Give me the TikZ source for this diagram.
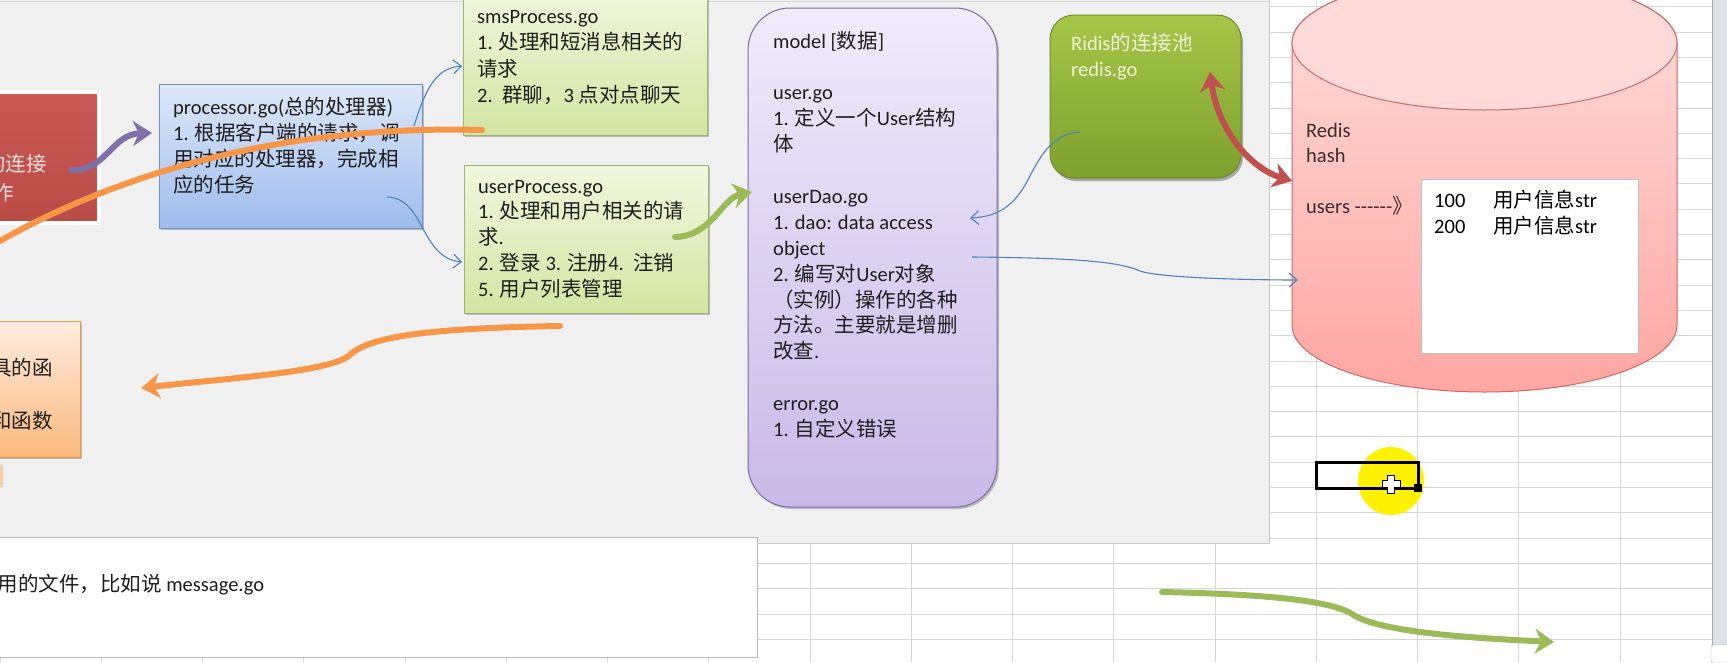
\documentclass[tikz,border=0pt]{standalone}
\usepackage{fontspec}
\setmainfont{Carlito}
\newfontfamily\cjkfont{Noto Sans CJK SC}
\newfontfamily\latfont{Carlito}
\usetikzlibrary{arrows.meta,shadows}
% automatic switch between Latin (Carlito) and CJK (Noto Sans CJK SC)
\XeTeXinterchartokenstate=1
\chardef\CJKcls=1
\newcount\cjkc
\def\setcjkrange#1#2{\cjkc=#1\relax\loop\XeTeXcharclass\cjkc=\CJKcls\relax\advance\cjkc by 1\relax\ifnum\cjkc<#2\relax\repeat}
\setcjkrange{"3000}{"3040}
\setcjkrange{"4E00}{"A000}
\setcjkrange{"FF00}{"FFF0}
\XeTeXinterchartoks 0 \CJKcls = {\cjkfont}
\XeTeXinterchartoks 4095 \CJKcls = {\cjkfont}
\XeTeXinterchartoks \CJKcls 0 = {\latfont}
\XeTeXinterchartoks \CJKcls 4095 = {\latfont}
\newcommand\fsz{\fontsize{20.5}{26}\selectfont}
\definecolor{textc}{RGB}{30,30,30}
\definecolor{gridc}{RGB}{214,214,214}
\definecolor{panelc}{RGB}{240,240,240}
\definecolor{panelbd}{RGB}{200,200,200}
\definecolor{scrollc}{RGB}{222,226,232}
\definecolor{redTop}{RGB}{202,88,84}
\definecolor{redBot}{RGB}{186,76,72}
\definecolor{redtxt}{RGB}{244,222,220}
\definecolor{blueTop}{RGB}{222,232,248}
\definecolor{blueBot}{RGB}{158,188,236}
\definecolor{blueBd}{RGB}{112,144,204}
\definecolor{grTop}{RGB}{241,247,222}
\definecolor{grBot}{RGB}{210,229,162}
\definecolor{grBd}{RGB}{158,182,108}
\definecolor{puTop}{RGB}{241,235,250}
\definecolor{puBot}{RGB}{200,185,232}
\definecolor{puBd}{RGB}{126,108,168}
\definecolor{olTop}{RGB}{166,198,72}
\definecolor{olBot}{RGB}{126,160,46}
\definecolor{olBd}{RGB}{112,142,42}
\definecolor{oltxt}{RGB}{236,243,216}
\definecolor{orTop}{RGB}{253,237,224}
\definecolor{orBot}{RGB}{250,184,124}
\definecolor{orBd}{RGB}{240,152,72}
\definecolor{cyTop}{RGB}{255,222,220}
\definecolor{cyBot}{RGB}{255,166,162}
\definecolor{cyTopE}{RGB}{255,218,216}
\definecolor{cyBd}{RGB}{204,104,104}
\definecolor{cytxt}{RGB}{60,44,44}
\definecolor{puArr}{RGB}{128,112,170}
\definecolor{orArr}{RGB}{247,150,70}
\definecolor{grArr}{RGB}{155,187,89}
\definecolor{blArr}{RGB}{79,129,189}
\definecolor{rdArr}{RGB}{192,80,77}
\tikzset{
  txt/.style={font=\fsz, inner sep=0pt, anchor=base west, text=textc},
  shadowed/.style={drop shadow={shadow xshift=2pt,shadow yshift=-2pt,opacity=.22,fill=black}},
  boxbase/.style={inner sep=0pt, line width=1pt},
  redbox/.style={boxbase, top color=redTop, bottom color=redBot, draw=white, line width=4pt},
  bluebox/.style={boxbase, shadowed, top color=blueTop, bottom color=blueBot, draw=blueBd},
  grbox/.style={boxbase, shadowed, top color=grTop, bottom color=grBot, draw=grBd},
  pubox/.style={boxbase, shadowed, top color=puTop, bottom color=puBot, draw=puBd, rounded corners=42pt},
  olbox/.style={boxbase, drop shadow={shadow xshift=2pt,shadow yshift=-3pt,opacity=.3,fill=black}, top color=olTop, bottom color=olBot, draw=olBd, rounded corners=24pt},
  orbox/.style={boxbase, shadowed, top color=orTop, bottom color=orBot, draw=orBd},
  fat/.style={line width=6pt, line cap=round},
  fattip/.style={-{Stealth[length=19pt,width=25pt,inset=6pt]}},
  thinarr/.style={draw=blArr, line width=1.1pt, -{Straight Barb[length=8pt,width=14pt]}},
}
\begin{document}
\begin{tikzpicture}[x=1pt,y=-1pt]
\useasboundingbox (0,0) rectangle (1727,662);
\fill[white] (0,0) rectangle (1727,662);
% spreadsheet grid
\foreach \k in {0,...,16} \draw[gridc, line width=0.8pt] (101.25*\k,0) -- (101.25*\k,662);
\foreach \j in {0,...,25} \draw[gridc, line width=0.8pt] (0,6.7+25.3*\j) -- (1712,6.7+25.3*\j);
\fill[scrollc] (1712,0) rectangle (1727,662);
\draw[gridc!80!black, line width=0.6pt] (1712,0) -- (1712,662);
% icon bottom right
\node[draw=gray!70, fill=white, rounded corners=2pt, minimum width=18pt, minimum height=18pt, inner sep=0pt] (icon) at (1720,654) {};
% gray panel
\fill[panelc] (-5,-5) rectangle (1269,543);
\draw[panelbd, line width=1pt] (1269,-5) -- (1269,543) -- (-5,543);
\draw[panelbd!70, line width=0.8pt] (0,1) -- (1269,1);

% boxes
\node[redbox, minimum width=219pt, minimum height=131pt] (main) at (-10.5,157.5) {};
\node[bluebox, minimum width=263pt, minimum height=144pt] (proc) at (290.5,156) {};
\node[grbox, minimum width=244pt, minimum height=147pt] (sms) at (585,61.5) {};
\node[grbox, minimum width=244pt, minimum height=148pt] (userp) at (586,239) {};
\node[pubox, minimum width=249pt, minimum height=499pt] (model) at (872.5,257.5) {};
\node[olbox, minimum width=191pt, minimum height=163pt] (pool) at (1145.5,96.5) {};
\node[orbox, minimum width=200pt, minimum height=136pt] (utils) at (-20,389) {};
\fill[orTop!40!orBot] (-10,465) rectangle (3,487);
\node[draw=gray!55, fill=white, line width=1pt, minimum width=762pt, minimum height=120pt, inner sep=0pt] (common) at (376,597) {};

% redis cylinder
\shade[top color=cyTop, bottom color=cyBot, draw=cyBd, line width=1pt]
  (1292,43) -- (1292,325) arc[start angle=180, end angle=0, x radius=192.5, y radius=67]
  -- (1677,43) arc[start angle=0, end angle=-180, x radius=192.5, y radius=67] -- cycle;
\draw[fill=cyTopE, draw=cyBd, line width=1pt] (1484.5,43) ellipse [x radius=192.5, y radius=67];
\coordinate (redis) at (1484.5,200);
\node[draw=gray!50, fill=white, line width=0.8pt, minimum width=217pt, minimum height=174pt, inner sep=0pt] (hash) at (1529.5,266) {};

% texts
\node[txt, text=redtxt, anchor=base east] (main-1) at (47,171) {的连接};
\node[txt, text=redtxt, anchor=base east] (main-2) at (14,200) {作};
\foreach \k/\t in {0/{processor.go(总的处理器)},1/{1. 根据客户端的请求，调},2/{用对应的处理器，完成相},3/{应的任务}}
  \node[txt] (proc-\k) at (173,114+26*\k) {\t};
\foreach \k/\t in {0/{smsProcess.go},1/{1. 处理和短消息相关的},2/{请求},3/{2.\ \ 群聊，3 点对点聊天}}
  \node[txt] (sms-\k) at (477,23+26.5*\k) {\t};
\foreach \k/\t in {0/{userProcess.go},1/{1. 处理和用户相关的请},2/{求.},3/{2. 登录 3. 注册4.\ \ 注销},4/{5. 用户列表管理}}
  \node[txt] (userp-\k) at (478,193+25.8*\k) {\t};
\foreach \k/\t in {0/{model [数据]},2/{user.go},3/{1. 定义一个User结构},4/{体},6/{userDao.go},7/{1. dao: data access},8/{object},9/{2. 编写对User对象},10/{（实例）操作的各种},11/{方法。主要就是增删},12/{改查.},14/{error.go},15/{1. 自定义错误}}
  \node[txt] (model-\k) at (773,48+25.9*\k) {\t};
\node[txt, text=oltxt] (pool-1) at (1071,50) {Ridis的连接池};
\node[txt, text=oltxt] (pool-2) at (1071,76) {redis.go};
\node[txt, anchor=base east] (utils-1) at (53,375) {工具的函};
\node[txt, anchor=base east] (utils-2) at (53,428) {方法和函数};
\node[txt] (common-1) at (-23,591) {共用的文件，比如说 message.go};
\node[txt, text=cytxt] (redis-1) at (1306,137) {Redis};
\node[txt, text=cytxt] (redis-2) at (1306,162.5) {hash};
\node[txt, text=cytxt] (redis-3) at (1306,213.5) {users -{}-{}-{}-{}-{}-》};
\node[txt, text=black] (hash-1a) at (1434,207) {100};
\node[txt, text=black] (hash-1b) at (1493,207) {用户信息str};
\node[txt, text=black] (hash-2a) at (1434,233.5) {200};
\node[txt, text=black] (hash-2b) at (1493,233.5) {用户信息str};

% connector end points
\coordinate (pA) at (72,170);   \coordinate (pB) at (152,133);
\coordinate (oA) at (482,130);  \coordinate (oB) at (-40,265);
\coordinate (o2A) at (560,326); \coordinate (o2B) at (141,388);
\coordinate (gA) at (675,237);  \coordinate (gB) at (752,192);
\coordinate (b1A) at (414,126); \coordinate (b1B) at (462,66);
\coordinate (b2A) at (387,197); \coordinate (b2B) at (462,262);
\coordinate (b3A) at (1080,132); \coordinate (b3B) at (970,218);
\coordinate (b4A) at (972,257); \coordinate (b4B) at (1298,280);
\coordinate (rA) at (1210,72);  \coordinate (rB) at (1292,181);
\coordinate (g2A) at (1162,592); \coordinate (g2B) at (1554,642);

% thin blue connectors
\draw[thinarr] (b1A) .. controls (428,80) and (440,68) .. (b1B);
\draw[thinarr] (b2A) .. controls (425,198) and (420,258) .. (b2B);
\draw[thinarr] (b3A) .. controls (1045,134) and (1035,170) .. (1022,190) .. controls (1010,208) and (995,217) .. (b3B);
\draw[thinarr] (b4A) .. controls (1080,258) and (1120,262) .. (1140,271) .. controls (1160,278) and (1250,280) .. (b4B);
% fat connectors
\draw[fat, puArr, fattip] (pA) .. controls (105,172) and (112,134) .. (pB);
\draw[fat, orArr, fattip] (oA) .. controls (300,125) and (120,165) .. (oB);
\draw[fat, orArr, fattip] (o2A) .. controls (440,328) and (370,335) .. (350,355) .. controls (330,372) and (230,378) .. (o2B);
\draw[fat, grArr, fattip] (gA) .. controls (712,236) and (722,198) .. (gB);
\draw[fat, rdArr, {Stealth[length=19pt,width=25pt,inset=6pt]}-{Stealth[length=19pt,width=25pt,inset=6pt]}] (rA) .. controls (1218,130) and (1250,168) .. (rB);
\draw[fat, grArr, fattip] (g2A) .. controls (1260,594) and (1330,600) .. (1352,614) .. controls (1378,632) and (1470,638) .. (g2B);

% selected cell with cursor highlight
\fill[yellow] (1391,481) ellipse [x radius=33, y radius=34];
\draw[black, line width=3pt] (1316,462) rectangle (1418,488);
\fill[black] (1414,484) rectangle (1422,492);
\draw[fill=white, draw=black, line width=1pt] (1387.5,475) -- (1394.5,475) -- (1394.5,480.5) -- (1400,480.5) -- (1400,487.5) -- (1394.5,487.5) -- (1394.5,493) -- (1387.5,493) -- (1387.5,487.5) -- (1382,487.5) -- (1382,480.5) -- (1387.5,480.5) -- cycle;
\end{tikzpicture}
\end{document}
